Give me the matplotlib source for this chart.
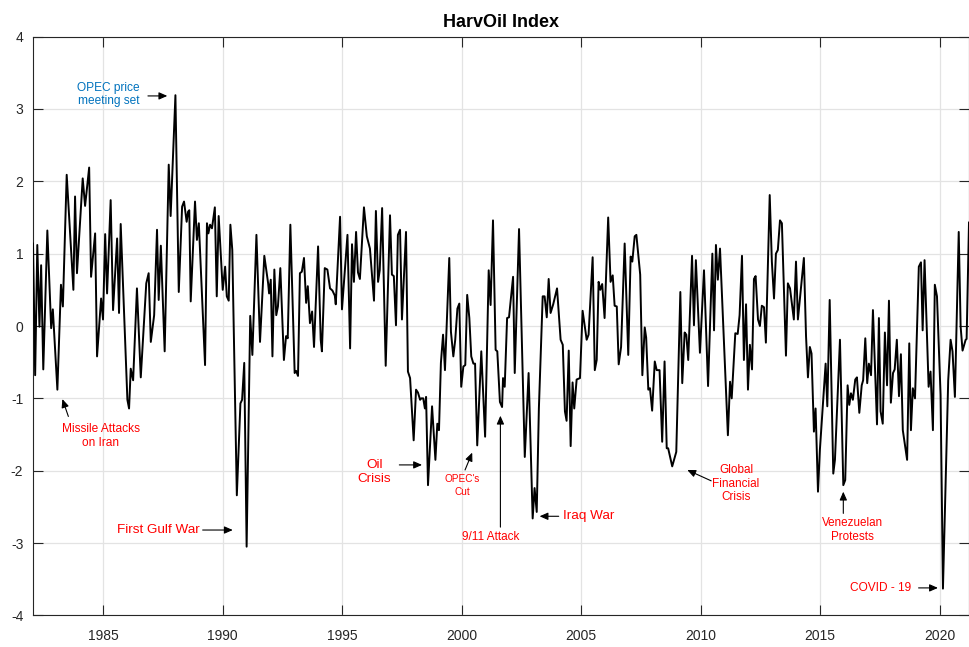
import matplotlib
matplotlib.use("Agg")
import matplotlib.pyplot as plt

plt.rcParams['font.family'] = ['Liberation Sans', 'DejaVu Sans']
plt.rcParams['axes.unicode_minus'] = False

# ---- data: turning points of the HarvOil index (decimal year, value) ----
dates = [
    1982.06, 1982.15, 1982.24, 1982.33, 1982.40, 1982.49, 1982.66, 1982.82, 1982.89, 1983.08,
    1983.23, 1983.31, 1983.47, 1983.75, 1983.82, 1983.90, 1984.14, 1984.24, 1984.41, 1984.49,
    1984.66, 1984.74, 1984.91, 1984.99, 1985.08, 1985.16, 1985.31, 1985.41, 1985.58, 1985.66,
    1985.73, 1986.01, 1986.08, 1986.15, 1986.25, 1986.41, 1986.57, 1986.80, 1986.90, 1986.99,
    1987.13, 1987.25, 1987.32, 1987.41, 1987.57, 1987.74, 1987.82, 1988.02, 1988.16, 1988.30,
    1988.38, 1988.49, 1988.55, 1988.60, 1988.66, 1988.84, 1988.92, 1989.00, 1989.26, 1989.34,
    1989.40, 1989.47, 1989.55, 1989.67, 1989.75, 1989.83, 1990.00, 1990.10, 1990.17, 1990.25,
    1990.32, 1990.40, 1990.59, 1990.74, 1990.81, 1990.90, 1991.00, 1991.15, 1991.24, 1991.41,
    1991.56, 1991.74, 1991.90, 1991.94, 1992.01, 1992.08, 1992.16, 1992.24, 1992.31, 1992.41,
    1992.56, 1992.65, 1992.72, 1992.83, 1993.01, 1993.07, 1993.15, 1993.23, 1993.31, 1993.40,
    1993.49, 1993.56, 1993.65, 1993.74, 1993.82, 1993.99, 1994.10, 1994.15, 1994.27, 1994.38,
    1994.49, 1994.59, 1994.69, 1994.73, 1994.91, 1994.99, 1995.22, 1995.33, 1995.41, 1995.49,
    1995.58, 1995.66, 1995.74, 1995.91, 1996.03, 1996.16, 1996.33, 1996.41, 1996.50, 1996.57,
    1996.67, 1996.82, 1997.00, 1997.08, 1997.16, 1997.25, 1997.33, 1997.42, 1997.50, 1997.67,
    1997.75, 1997.84, 1997.99, 1998.09, 1998.17, 1998.26, 1998.31, 1998.39, 1998.46, 1998.51,
    1998.59, 1998.76, 1998.90, 1998.98, 1999.05, 1999.13, 1999.22, 1999.30, 1999.48, 1999.55,
    1999.65, 1999.73, 1999.82, 1999.90, 1999.98, 2000.07, 2000.15, 2000.23, 2000.32, 2000.40,
    2000.49, 2000.56, 2000.65, 2000.82, 2000.98, 2001.13, 2001.21, 2001.31, 2001.42, 2001.49,
    2001.60, 2001.69, 2001.73, 2001.80, 2001.90, 2001.98, 2002.15, 2002.22, 2002.40, 2002.64,
    2002.80, 2002.97, 2003.05, 2003.14, 2003.23, 2003.39, 2003.47, 2003.56, 2003.64, 2003.72,
    2003.83, 2003.99, 2004.14, 2004.23, 2004.32, 2004.39, 2004.48, 2004.56, 2004.64, 2004.71,
    2004.81, 2004.95, 2005.06, 2005.23, 2005.31, 2005.48, 2005.57, 2005.65, 2005.73, 2005.80,
    2005.88, 2005.98, 2006.13, 2006.23, 2006.32, 2006.40, 2006.49, 2006.57, 2006.67, 2006.82,
    2006.97, 2007.07, 2007.14, 2007.24, 2007.31, 2007.47, 2007.56, 2007.66, 2007.72, 2007.81,
    2007.88, 2007.97, 2008.08, 2008.16, 2008.28, 2008.39, 2008.49, 2008.58, 2008.64, 2008.81,
    2008.98, 2009.15, 2009.23, 2009.33, 2009.40, 2009.48, 2009.64, 2009.72, 2009.80, 2009.97,
    2010.14, 2010.31, 2010.49, 2010.56, 2010.64, 2010.72, 2010.81, 2011.14, 2011.23, 2011.30,
    2011.45, 2011.55, 2011.63, 2011.73, 2011.81, 2011.90, 2011.98, 2012.06, 2012.15, 2012.23,
    2012.30, 2012.40, 2012.48, 2012.56, 2012.65, 2012.73, 2012.89, 2012.98, 2013.07, 2013.15,
    2013.23, 2013.32, 2013.40, 2013.57, 2013.65, 2013.74, 2013.90, 2013.99, 2014.07, 2014.32,
    2014.41, 2014.49, 2014.57, 2014.64, 2014.74, 2014.81, 2014.91, 2014.99, 2015.23, 2015.30,
    2015.40, 2015.55, 2015.62, 2015.83, 2015.97, 2016.05, 2016.15, 2016.22, 2016.29, 2016.37,
    2016.47, 2016.54, 2016.64, 2016.74, 2016.80, 2016.89, 2016.97, 2017.04, 2017.13, 2017.21,
    2017.38, 2017.46, 2017.53, 2017.62, 2017.71, 2017.80, 2017.88, 2017.96, 2018.05, 2018.12,
    2018.21, 2018.30, 2018.38, 2018.46, 2018.64, 2018.73, 2018.80, 2018.88, 2018.97, 2019.13,
    2019.22, 2019.29, 2019.37, 2019.54, 2019.62, 2019.72, 2019.80, 2019.89, 2020.04, 2020.14,
    2020.36, 2020.46, 2020.54, 2020.64, 2020.80, 2020.88, 2020.96, 2021.09, 2021.13, 2021.23,
]
index_values = [
    1.14, -0.68, 1.12, -0.01, 0.84, -0.60, 1.32, -0.03, 0.23, -0.88,
    0.57, 0.27, 2.09, 0.50, 1.79, 0.73, 2.04, 1.66, 2.19, 0.68,
    1.28, -0.42, 0.38, 0.09, 1.27, 0.45, 1.74, 0.22, 1.21, 0.18,
    1.41, -1.02, -1.14, -0.59, -0.75, 0.52, -0.71, 0.59, 0.73, -0.22,
    0.15, 1.33, 0.36, 1.11, -0.35, 2.23, 1.52, 3.19, 0.47, 1.65,
    1.72, 1.44, 1.58, 1.60, 0.34, 1.72, 1.19, 1.42, -0.54, 1.42,
    1.28, 1.40, 1.35, 1.64, 0.41, 1.52, 0.50, 0.82, 0.41, 0.35,
    1.40, 1.05, -2.34, -1.07, -1.02, -0.51, -3.05, 0.14, -0.40, 1.26,
    -0.22, 0.97, 0.59, 0.45, 0.64, -0.42, 0.78, 0.15, 0.27, 0.80,
    -0.47, -0.14, -0.17, 1.40, -0.65, -0.62, -0.69, 0.73, 0.75, 0.94,
    0.32, 0.55, 0.04, 0.20, -0.29, 1.10, -0.19, -0.35, 0.80, 0.78,
    0.52, 0.49, 0.42, 0.30, 1.51, 0.23, 1.26, -0.31, 1.13, 0.61,
    1.30, 0.74, 0.65, 1.64, 1.24, 1.07, 0.35, 1.59, 0.61, 0.77,
    1.63, -0.55, 1.53, 0.71, 0.69, 0.01, 1.26, 1.33, 0.09, 1.30,
    -0.63, -0.72, -1.58, -0.88, -0.92, -1.02, -1.00, -1.00, -1.14, -0.98,
    -2.20, -1.11, -1.85, -1.35, -1.44, -0.51, -0.12, -0.61, 0.94, -0.08,
    -0.42, -0.19, 0.24, 0.31, -0.84, -0.56, -0.54, 0.43, 0.11, -0.42,
    -0.52, -0.52, -1.65, -0.35, -1.53, 0.77, 0.29, 1.46, -0.33, -0.35,
    -1.05, -1.12, -0.72, -0.84, 0.11, 0.12, 0.68, -0.65, 1.34, -1.81,
    -0.65, -2.66, -2.24, -2.57, -1.14, 0.41, 0.41, 0.12, 0.65, 0.18,
    0.30, 0.52, -0.19, -0.26, -1.18, -1.31, -0.34, -1.66, -0.78, -1.14,
    -0.74, -0.72, 0.21, -0.19, -0.12, 0.95, -0.61, -0.47, 0.61, 0.50,
    0.58, 0.11, 1.50, 0.61, 0.70, 0.28, 0.27, -0.53, -0.29, 1.14,
    -0.40, 0.96, 0.89, 1.24, 1.26, 0.71, -0.68, -0.02, -0.16, -0.88,
    -0.86, -1.17, -0.49, -0.61, -0.61, -1.60, -0.49, -1.69, -1.69, -1.94,
    -1.74, 0.47, -0.79, -0.09, -0.12, -0.47, 0.97, 0.01, 0.91, -0.37,
    0.77, -0.83, 1.00, -0.06, 1.12, 0.64, 1.07, -1.51, -0.77, -1.00,
    -0.10, -0.11, 0.15, 0.97, -0.47, 0.30, -0.88, -0.26, -0.60, 0.65,
    0.69, 0.09, 0.00, 0.28, 0.26, -0.23, 1.81, 0.89, 0.38, 1.00,
    1.05, 1.46, 1.42, -0.41, 0.59, 0.52, 0.09, 0.89, 0.09, 0.94,
    -0.14, -0.71, -0.29, -0.38, -1.46, -1.14, -2.29, -1.71, -0.52, -1.11,
    0.36, -2.04, -1.85, -0.19, -2.20, -2.13, -0.82, -1.09, -0.93, -1.02,
    -0.74, -0.71, -1.20, -0.82, -0.75, -0.17, -0.79, -0.52, -0.68, 0.22,
    -1.36, 0.11, -1.18, -1.35, -0.09, -0.82, 0.35, -1.06, -0.65, -0.60,
    -0.19, -0.97, -0.39, -1.44, -1.85, -0.24, -1.44, -0.86, -1.00, 0.82,
    0.88, -0.06, 0.91, -0.84, -0.63, -1.44, 0.57, 0.41, -0.95, -3.63,
    -0.75, -0.19, -0.35, -0.98, 1.30, -0.01, -0.34, -0.19, -0.18, 1.43,
]

x_ticks = [1985, 1990, 1995, 2000, 2005, 2010, 2015, 2020]
y_ticks = [-4, -3, -2, -1, 0, 1, 2, 3, 4]

# ---- annotations: label, text anchor, arrow tail, arrow head ----
event_labels = ["OPEC price\nmeeting set", "Missile Attacks\non Iran", "First Gulf War",
                "Oil\nCrisis", "OPEC's\nCut", "9/11 Attack", "Iraq War",
                "Global\nFinancial\nCrisis", "Venezuelan\nProtests", "COVID - 19"]
event_text_xy = [(1985.22, 3.20), (1984.90, -1.52), (1989.02, -2.82),
                 (1996.35, -2.02), (2000.03, -2.21), (2001.23, -2.92), (2004.22, -2.63),
                 (2011.48, -2.18), (2016.37, -2.82), (2018.82, -3.62)]
arrow_tail = [(1986.87, 3.18), (1983.54, -1.25), (1989.16, -2.82),
              (1997.39, -1.92), (2000.14, -1.99), (2001.62, -2.78), (2004.06, -2.63),
              (2010.44, -2.14), (2015.97, -2.59), (2019.12, -3.62)]
arrow_head = [(1987.68, 3.18), (1983.29, -1.01), (1990.42, -2.82),
              (1998.34, -1.92), (2000.44, -1.75), (2001.62, -1.24), (2003.26, -2.63),
              (2009.44, -1.99), (2015.97, -2.29), (2019.93, -3.62)]
event_colors = ["#0072BD"] + ["#FF0000"] * 9
event_sizes = [8.6, 8.6, 9.7, 9.7, 7.2, 8.5, 9.7, 8.5, 8.4, 8.6]
event_ha = ["center", "center", "right", "center", "center", "center", "left",
            "center", "center", "right"]
event_spacing = [1.2, 1.12, 1.2, 1.2, 1.4, 1.2, 1.2, 1.18, 1.2, 1.2]

fig = plt.figure(figsize=(9.69, 6.47), dpi=100)
ax = fig.add_axes([33 / 969, (647 - 615.4) / 647, (969 - 33) / 969, 578.8 / 647])

ax.plot(dates, index_values, color="black", lw=1.4, zorder=3)

ax.set_xlim(dates[0], dates[-1])
ax.set_ylim(-4, 4)
ax.set_xticks(x_ticks)
ax.set_yticks(y_ticks)
ax.grid(True, color="#e3e3e3", lw=0.9)
ax.set_axisbelow(True)
ax.tick_params(direction="in", length=7, width=0.8, labelsize=10, colors="#262626",
               top=True, right=True)
ax.tick_params(axis="x", pad=10)
ax.tick_params(axis="y", pad=7)
for s in ax.spines.values():
    s.set_color("#262626")
    s.set_linewidth(0.8)
ax.set_title("HarvOil Index", fontweight="bold", fontsize=13, pad=7)

for lab, txy, tail, head, col, fs, ha, ls in zip(event_labels, event_text_xy, arrow_tail,
                                                 arrow_head, event_colors, event_sizes,
                                                 event_ha, event_spacing):
    ax.annotate("", xy=head, xytext=tail,
                arrowprops=dict(arrowstyle="-|>,head_length=0.5,head_width=0.22",
                                color="black", lw=0.8, shrinkA=0, shrinkB=0), zorder=4)
    ax.text(txy[0], txy[1], lab, color=col, fontsize=fs, ha=ha, va="center",
            linespacing=ls, zorder=5)

fig.savefig("out.png", dpi=100)
